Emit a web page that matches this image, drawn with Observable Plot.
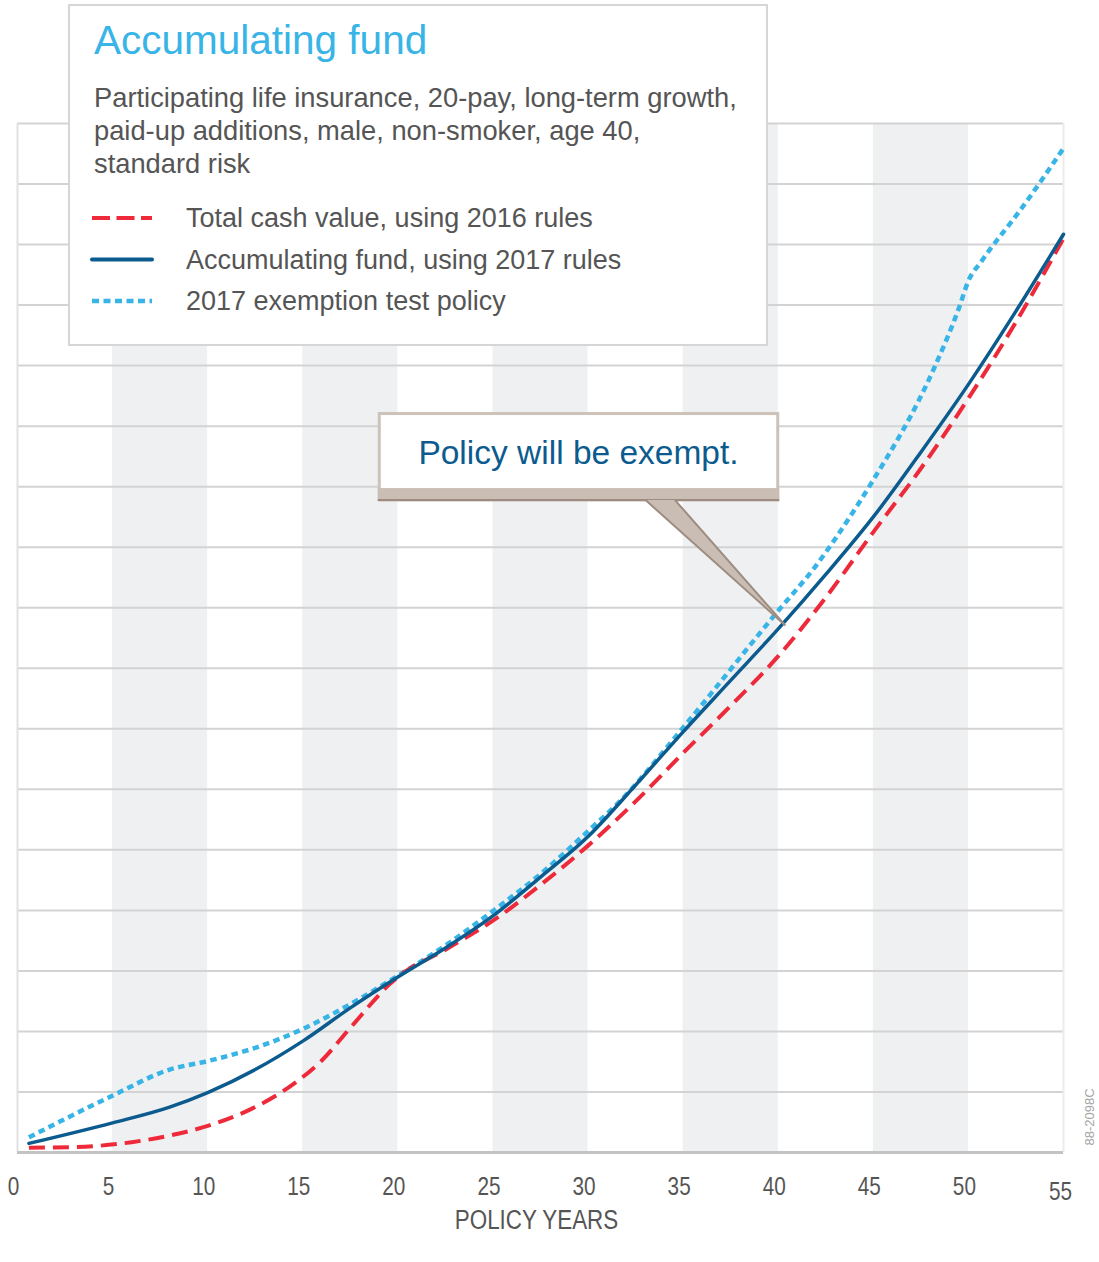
<!DOCTYPE html>
<html>
<head>
<meta charset="utf-8">
<script src="https://cdn.jsdelivr.net/npm/d3@7"></script>
<script src="https://cdn.jsdelivr.net/npm/@observablehq/plot@0.6"></script>
<style>
  body { margin: 0; background: #fff; }
  #chart { position: relative; width: 1099px; height: 1262px; }
  #chart svg { display: block; }
  #key { position: absolute; left: 0; top: 0; }
</style>
</head>
<body>
<div id="chart"></div>
<script>
// Policy years and values (arbitrary units, one unit per grid line)
const cashYears  = [0.6, 3, 6, 8, 10, 12.3, 14.5, 16, 17.5, 19.6, 20, 22.5, 25, 27.5, 30, 32.5, 35, 37.5, 40, 42.5, 45, 47.5, 50, 52.5, 55];
const cashValues = [0.08, 0.09, 0.17, 0.28, 0.44, 0.72, 1.13, 1.52, 2.06, 2.79, 2.9, 3.35, 3.83, 4.42, 5.07, 5.8, 6.6, 7.38, 8.2, 9.17, 10.25, 11.3, 12.46, 13.72, 15.1];

const fundYears  = [0.6, 5, 8, 10, 12.5, 15, 17.5, 20, 22.5, 25, 27.5, 30, 32.5, 35, 37.5, 40, 42.5, 45, 47.5, 50, 52.5, 55];
const fundValues = [0.15, 0.49, 0.75, 0.99, 1.37, 1.84, 2.39, 2.9, 3.38, 3.91, 4.55, 5.22, 6.07, 6.95, 7.8, 8.65, 9.55, 10.5, 11.57, 12.69, 13.9, 15.17];

const testYears  = [0.6, 5, 8, 10, 12.5, 15, 17.5, 20, 22.5, 25, 27.5, 30, 31.7, 35, 40, 41.9, 44.2, 44.9, 48.2, 49.5, 50, 50.7, 52.8, 55];
const testValues = [0.25, 0.94, 1.37, 1.51, 1.73, 2.04, 2.45, 2.92, 3.42, 3.99, 4.6, 5.31, 5.81, 7.02, 8.95, 9.66, 10.71, 11.06, 12.96, 13.95, 14.4, 14.73, 15.6, 16.59];

const seriesNames = [
  "Total cash value, using 2016 rules",
  "Accumulating fund, using 2017 rules",
  "2017 exemption test policy"
];
const xTicks = [0, 5, 10, 15, 20, 25, 30, 35, 40, 45, 50, 55];
const yGrid = d3.range(1, 18);
const yMax = 17;
const shadedBands = [[5, 10], [15, 20], [25, 30], [35, 40], [45, 50]];

const title = "Accumulating fund";
const subtitleLines = [
  "Participating life insurance, 20-pay, long-term growth,",
  "paid-up additions, male, non-smoker, age 40,",
  "standard risk"
];
const calloutText = "Policy will be exempt.";
const xLabel = "POLICY YEARS";
const figureCode = "88-2098C";

const toRows = (years, values) => years.map((year, i) => ({year, value: values[i]}));
const cash = toRows(cashYears, cashValues);
const fund = toRows(fundYears, fundValues);
const test = toRows(testYears, testValues);
const bands = shadedBands.map(([from, to]) => ({from, to}));

const RED = "#ee2a3a", NAVY = "#0c5b8e", SKY = "#38b4e7", INK = "#555";
const SANS = "'Liberation Sans', Arial, Helvetica, sans-serif";

const plot = Plot.plot({
  width: 1099,
  height: 1262,
  marginLeft: 17,
  marginRight: 36,
  marginTop: 123,
  marginBottom: 110,
  x: {domain: [0, 55]},
  y: {domain: [0, yMax], axis: null},
  style: {fontFamily: SANS, background: "transparent", overflow: "visible"},
  marks: [
    Plot.rect(bands, {x1: "from", x2: "to", y1: 0, y2: yMax, fill: "#eff0f2"}),
    Plot.ruleY(yGrid, {stroke: "#d3d3d3", strokeWidth: 2}),
    Plot.ruleX([0], {stroke: "#e1e1e1", strokeWidth: 2}),
    Plot.ruleX([55], {stroke: "#ececec", strokeWidth: 2}),
    Plot.ruleY([0], {stroke: "#c3c3c3", strokeWidth: 3}),
    Plot.line(test, {x: "year", y: "value", stroke: SKY, strokeWidth: 4.5, strokeDasharray: "6.5,4.5", strokeLinecap: "butt", strokeLinejoin: "miter", curve: "monotone-x"}),
    Plot.line(cash, {x: "year", y: "value", stroke: RED, strokeWidth: 4, strokeDasharray: "16,8", strokeLinecap: "butt", curve: "monotone-x"}),
    Plot.line(fund, {x: "year", y: "value", stroke: NAVY, strokeWidth: 3.5, curve: "monotone-x"}),
    Plot.axisX(xTicks.slice(0, -1), {tickSize: 0, tickPadding: 25, fontSize: 25, fill: INK, dx: -4, label: null}),
    Plot.text(xTicks.slice(-1), {x: d => d, y: 0, lineAnchor: "top", dy: 30, dx: -3, text: d => String(d), fontSize: 25, fill: INK}),
    Plot.text([xLabel], {frameAnchor: "bottom", lineAnchor: "top", dy: 57, dx: -4, text: d => d, fontSize: 28, fill: INK})
  ]
});

document.getElementById("chart").appendChild(plot);

const svg = d3.select(plot);
const sx = plot.scale("x").apply;
const sy = plot.scale("y").apply;

// Axis texts are set in a condensed face: squeeze them horizontally in place
function condense(selection, k) {
  selection.each(function () {
    const el = d3.select(this);
    const t = el.attr("transform");
    if (t) {
      el.attr("transform", `${t} scale(${k},1)`);
    } else {
      const x = +el.attr("x") || 0, y = +el.attr("y") || 0;
      el.attr("x", null).attr("y", null).attr("transform", `translate(${x},${y}) scale(${k},1)`);
    }
  });
}
condense(svg.selectAll('g[aria-label="x-axis tick label"] text'), 0.83);
condense(svg.selectAll('g[aria-label="text"] text').filter(function () { return this.textContent !== xLabel; }), 0.83);
condense(svg.selectAll('g[aria-label="text"] text').filter(function () { return this.textContent === xLabel; }), 0.8);

// Callout pointing at the accumulating fund curve
const callout = {x1: 19.05, x2: 40, yTop: 12.2, yBottom: 10.77, baseX1: 33.05, baseX2: 34.6, tipYear: 40.4, tipValue: 8.7};
{
  const g = svg.append("g").attr("aria-label", "callout");
  const L = sx(callout.x1), R = sx(callout.x2), T = sy(callout.yTop), B = sy(callout.yBottom);
  const band = 12;
  const tip = [sx(callout.tipYear), sy(callout.tipValue)];
  const b1 = [sx(callout.baseX1), B], b2 = [sx(callout.baseX2), B];
  g.append("rect").attr("x", L).attr("y", T).attr("width", R - L).attr("height", B - T)
    .attr("fill", "#fff").attr("stroke", "#cdc2ba").attr("stroke-width", 3);
  g.append("rect").attr("x", L - 1.5).attr("y", B - band).attr("width", R - L + 3).attr("height", band)
    .attr("fill", "#c9bdb4");
  g.append("line").attr("x1", L - 1.5).attr("x2", R + 1.5).attr("y1", B).attr("y2", B)
    .attr("stroke", "#9d8c81").attr("stroke-width", 2);
  g.append("path").attr("d", `M${b1}L${tip}L${b2}Z`).attr("fill", "#c9bdb4");
  g.append("path").attr("d", `M${b1}L${tip}L${b2}`).attr("fill", "none")
    .attr("stroke", "#9d8c81").attr("stroke-width", 2).attr("stroke-linejoin", "miter");
  g.append("text").attr("x", (L + R) / 2).attr("y", T + 50).attr("text-anchor", "middle")
    .attr("font-family", SANS).attr("font-size", 33.5).attr("fill", NAVY).text(calloutText);
}

// Figure reference code, rotated at the right edge
svg.append("text")
  .attr("transform", `translate(${sx(55) + 31},${sy(0) - 35}) rotate(-90)`)
  .attr("text-anchor", "middle").attr("font-family", SANS).attr("font-size", 13)
  .attr("fill", "#a5a5a5").text(figureCode);

// Title, description and key in a boxed panel over the plot
const key = d3.select("#chart").append("svg").attr("id", "key")
  .attr("width", 1099).attr("height", 360);
key.append("rect").attr("x", 69).attr("y", 5).attr("width", 698).attr("height", 340)
  .attr("fill", "#fff").attr("stroke", "#d6d6d6").attr("stroke-width", 2);
key.append("text").attr("x", 94).attr("y", 54).attr("font-family", SANS).attr("font-size", 40.5)
  .attr("fill", SKY).text(title);
subtitleLines.forEach((line, i) => {
  key.append("text").attr("x", 94).attr("y", 107 + i * 33).attr("font-family", SANS)
    .attr("font-size", 27.3).attr("fill", INK).text(line);
});
const keyStyles = [
  {stroke: RED, width: 4, dash: "18,6.5"},
  {stroke: NAVY, width: 4, dash: null},
  {stroke: SKY, width: 4.5, dash: "7,4.5"}
];
seriesNames.forEach((name, i) => {
  const cy = 218 + i * 41.5;
  const s = keyStyles[i];
  key.append("line").attr("x1", 92).attr("x2", 152).attr("y1", cy).attr("y2", cy)
    .attr("stroke", s.stroke).attr("stroke-width", s.width)
    .attr("stroke-dasharray", s.dash).attr("stroke-linecap", s.dash ? "butt" : "round");
  key.append("text").attr("x", 186).attr("y", cy + 9).attr("font-family", SANS)
    .attr("font-size", 27).attr("fill", INK).text(name);
});
</script>
</body>
</html>
